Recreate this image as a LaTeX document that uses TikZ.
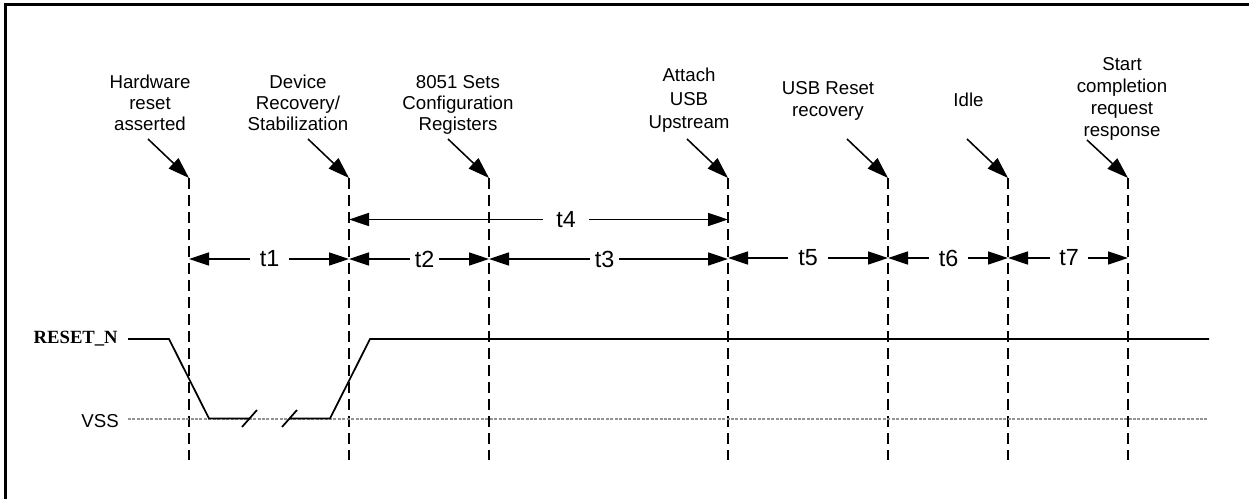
\documentclass[tikz,border=0pt]{standalone}
\usepackage{fontspec}
\setmainfont{Liberation Sans}
\newfontfamily\timesfam{Liberation Serif}
\usetikzlibrary{arrows.meta}
\begin{document}
\begin{tikzpicture}[x=0.75pt,y=-0.75pt,
  vline/.style={line width=2.1pt, dash pattern=on 8.25pt off 4.5pt},
  dim/.style={line width=1.15pt, -{Triangle[length=15pt,width=9.75pt]}},
  ptr/.style={line width=1.15pt, -{Triangle[length=16pt,width=10.5pt]}},
  sig/.style={line width=1.3pt, line join=miter},
  vss/.style={line width=1.7pt, color=gray!85, dash pattern=on 2.25pt off 1.1pt},
  evlabel/.style={align=center, anchor=north, inner sep=0pt, font=\fontsize{14}{16.5}\selectfont},
  tlabel/.style={inner sep=0pt, font=\fontsize{17.5}{20}\selectfont, minimum height=10pt},
  sidelabel/.style={inner sep=0pt, font=\fontsize{14}{16}\selectfont}
]
\useasboundingbox (0,0) rectangle (1249,499);
\clip (0,0) rectangle (1249,499);

% frame (only left and top edges visible)
\draw[line width=2.4pt] (5.5,530) -- (5.5,4.5) -- (1280,4.5);

% dashed time markers
\foreach \i/\x in {1/189,2/349,3/489,4/728,5/888,6/1008,7/1128}{
  \coordinate (T\i) at (\x,178);
  \coordinate (B\i) at (\x,460);
}
\foreach \i in {1,...,7}{ \draw[vline] (T\i) -- (B\i); }

% event labels
\node[evlabel, font=\fontsize{14}{15.75}\selectfont] (lab1) at (150,75) {Hardware\\reset\\asserted};
\node[evlabel, font=\fontsize{14}{15.75}\selectfont] (lab2) at (298,75) {Device\\Recovery/\\Stabilization};
\node[evlabel, font=\fontsize{14}{15.75}\selectfont] (lab3) at (458,75) {8051 Sets\\Configuration\\Registers};
\node[evlabel, font=\fontsize{14}{17.5}\selectfont] (lab4) at (689,68) {Attach\\USB\\Upstream};
\node[evlabel] (lab5) at (828,81) {USB Reset\\recovery};
\node[evlabel] (lab6) at (968.5,93) {Idle};
\node[evlabel] (lab7) at (1122,57) {Start\\completion\\request\\response};

% pointer arrows
\foreach \i/\x/\y in {1/148/139,2/308/139,3/448/139,4/687/139,5/847/139,6/967/139,7/1087/140}{
  \coordinate (P\i) at (\x,\y);
  \draw[ptr] (P\i) -- (T\i);
}

% time interval labels
\node[tlabel, minimum width=29.25pt] (n1) at (269.5,259) {t1};
\node[tlabel, minimum width=21.75pt] (n2) at (424.5,259) {t2};
\node[tlabel, minimum width=21.75pt] (n3) at (604.5,259) {t3};
\node[tlabel, minimum width=34.5pt] (n4) at (566,219.5) {t4};
\node[tlabel, minimum width=30pt] (n5) at (808,258) {t5};
\node[tlabel, minimum width=29.25pt] (n6) at (948.5,258) {t6};
\node[tlabel, minimum width=28.5pt] (n7) at (1069,258) {t7};

\draw[dim] (n1.west) -- (T1 |- n1); \draw[dim] (n1.east) -- (T2 |- n1);
\draw[dim] (n2.west) -- (T2 |- n2); \draw[dim] (n2.east) -- (T3 |- n2);
\draw[dim] (n3.west) -- (T3 |- n3); \draw[dim] (n3.east) -- (T4 |- n3);
\draw[dim] (n4.west) -- (T2 |- n4); \draw[dim] (n4.east) -- (T4 |- n4);
\draw[dim] (n5.west) -- (T4 |- n5); \draw[dim] (n5.east) -- (T5 |- n5);
\draw[dim] (n6.west) -- (T5 |- n6); \draw[dim] (n6.east) -- (T6 |- n6);
\draw[dim] (n7.west) -- (T6 |- n7); \draw[dim] (n7.east) -- (T7 |- n7);

% signal labels
\node[sidelabel, anchor=base east, font=\timesfam\bfseries\fontsize{14}{16}\selectfont] (rn) at (118,343) {RESET\_N};
\node[sidelabel, anchor=east] (vs) at (119,421.5) {VSS};

% VSS reference line
\coordinate (v0) at (128,418.7);
\coordinate (v1) at (1207,418.7);
\draw[vss] (v0) -- (v1);

% RESET_N waveform
\coordinate (s0) at (128,339);
\coordinate (s1) at (169,339);
\coordinate (s2) at (209,418.5);
\coordinate (s3) at (249.5,418.5);
\coordinate (s4) at (289.5,418.5);
\coordinate (s5) at (330,418.5);
\coordinate (s6) at (370,339);
\coordinate (s7) at (1209,339);
\draw[sig] (s0) -- (s1) -- (s2) -- (s3);
\draw[sig] (s4) -- (s5) -- (s6) -- (s7);
% break marks
\draw[sig] ([shift={(-7.5,8.5)}]s3) -- ([shift={(7.5,-8.5)}]s3);
\draw[sig] ([shift={(-7.5,8.5)}]s4) -- ([shift={(7.5,-8.5)}]s4);
\end{tikzpicture}
\end{document}
